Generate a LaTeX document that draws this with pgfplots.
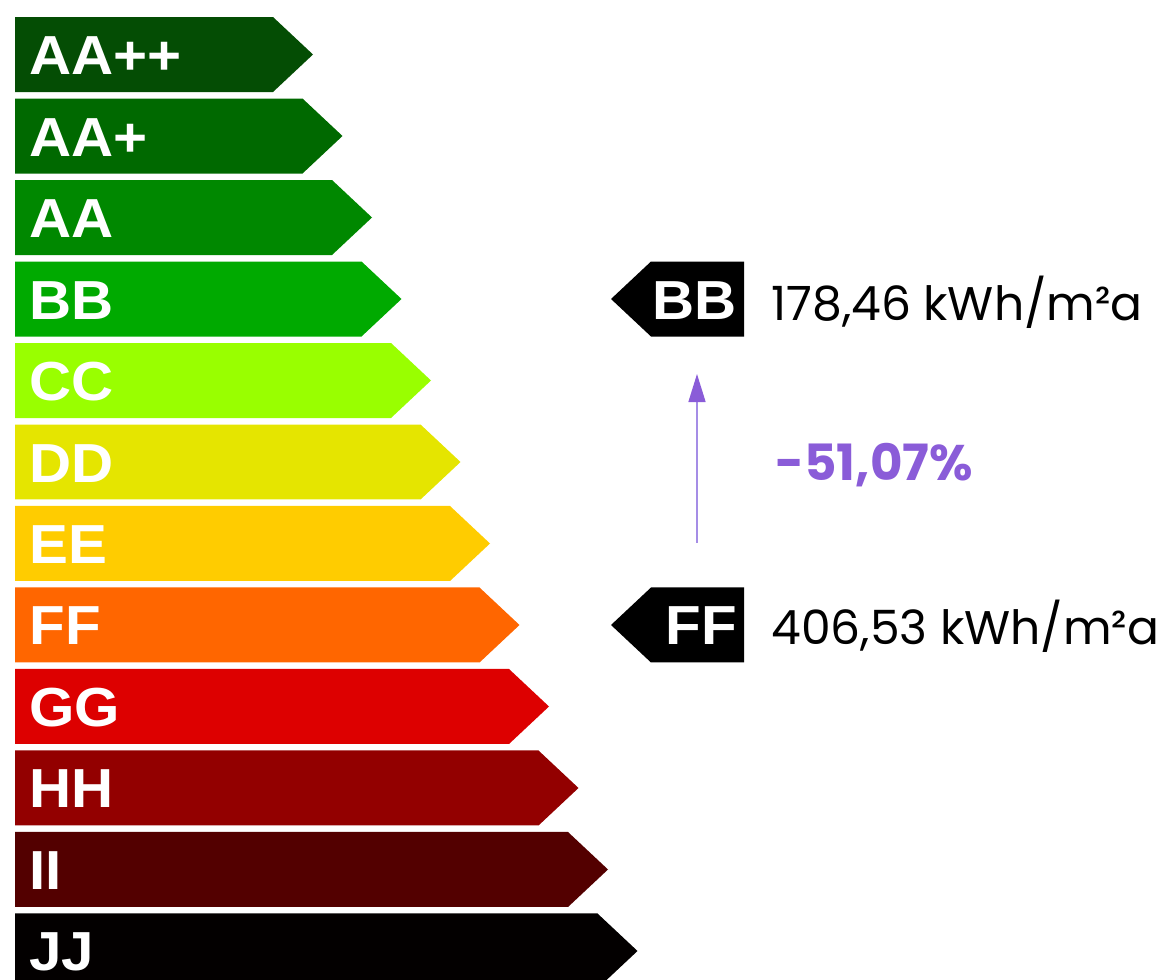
\documentclass[border=0pt]{standalone}
\usepackage{pgfplots}
\pgfplotsset{compat=1.18}
\usepackage{fontspec}
\usetikzlibrary{arrows.meta}
\newfontfamily\lbl{Liberation Sans}[FakeStretch=1.06]
\newfontfamily\pop{Poppins}

\definecolor{cAApp}{HTML}{044D04}
\definecolor{cAAp}{HTML}{006900}
\definecolor{cAA}{HTML}{008800}
\definecolor{cBB}{HTML}{00AA00}
\definecolor{cCC}{HTML}{99FF00}
\definecolor{cDD}{HTML}{E5E500}
\definecolor{cEE}{HTML}{FFCC00}
\definecolor{cFF}{HTML}{FF6600}
\definecolor{cGG}{HTML}{DD0000}
\definecolor{cHH}{HTML}{930000}
\definecolor{cII}{HTML}{530000}
\definecolor{cJJ}{HTML}{030000}
\definecolor{purp}{HTML}{8A5CD8}
\definecolor{purpline}{HTML}{A58DE6}

\begin{document}
\begin{tikzpicture}
\begin{axis}[
    width=584bp, height=490bp, scale only axis,
    xmin=0, xmax=1168, ymin=0, ymax=980,
    y dir=reverse,
    hide axis,
    clip=true,
]
% invisible corners so the picture keeps the full frame
\addplot[draw=none] coordinates {(0,0) (1168,980)};

% class bars: (0,top) (body end,top) (tip,mid) (body end,bottom) (0,bottom)
\addplot[fill=cAApp, draw=none] coordinates {(15,17) (273,17) (313,54.5) (273,92) (15,92)} -- cycle;
\addplot[fill=cAAp, draw=none] coordinates {(15,98.5) (302.5,98.5) (342.5,136) (302.5,173.5) (15,173.5)} -- cycle;
\addplot[fill=cAA, draw=none] coordinates {(15,180) (332,180) (372,217.5) (332,255) (15,255)} -- cycle;
\addplot[fill=cBB, draw=none] coordinates {(15,261.5) (361.5,261.5) (401.5,299) (361.5,336.5) (15,336.5)} -- cycle;
\addplot[fill=cCC, draw=none] coordinates {(15,343) (391,343) (431,380.5) (391,418) (15,418)} -- cycle;
\addplot[fill=cDD, draw=none] coordinates {(15,424.5) (420.5,424.5) (460.5,462) (420.5,499.5) (15,499.5)} -- cycle;
\addplot[fill=cEE, draw=none] coordinates {(15,506) (450,506) (490,543.5) (450,581) (15,581)} -- cycle;
\addplot[fill=cFF, draw=none] coordinates {(15,587.5) (479.5,587.5) (519.5,625) (479.5,662.5) (15,662.5)} -- cycle;
\addplot[fill=cGG, draw=none] coordinates {(15,669) (509,669) (549,706.5) (509,744) (15,744)} -- cycle;
\addplot[fill=cHH, draw=none] coordinates {(15,750.5) (538.5,750.5) (578.5,788) (538.5,825.5) (15,825.5)} -- cycle;
\addplot[fill=cII, draw=none] coordinates {(15,832) (568,832) (608,869.5) (568,907) (15,907)} -- cycle;
\addplot[fill=cJJ, draw=none] coordinates {(15,913.5) (597.5,913.5) (637.5,951) (597.5,988.5) (15,988.5)} -- cycle;

% current and previous rating markers
\addplot[fill=black, draw=none] coordinates {(744,261.5) (651,261.5) (611,299) (651,336.5) (744,336.5)} -- cycle;
\addplot[fill=black, draw=none] coordinates {(744,587.5) (651,587.5) (611,625) (651,662.5) (744,662.5)} -- cycle;

% improvement arrow
\addplot[purpline, line width=0.75bp, -{Triangle[length=14bp,width=8.5bp,color=purp]}] coordinates {(697,543) (697,374)};

\begin{scope}[every node/.style={inner sep=0pt, text=white, anchor=base west,
    font=\lbl\bfseries\fontsize{27.5bp}{30bp}\selectfont}]
\node at (axis cs:29,74.5) {AA++};
\node at (axis cs:29,156) {AA+};
\node at (axis cs:29,237.5) {AA};
\node at (axis cs:29,319) {BB};
\node at (axis cs:29,400.5) {CC};
\node at (axis cs:29,482) {DD};
\node at (axis cs:29,563.5) {EE};
\node at (axis cs:29,645) {FF};
\node at (axis cs:29,726.5) {GG};
\node at (axis cs:29,808) {HH};
\node at (axis cs:29,889.5) {II};
\node at (axis cs:29,971) {JJ};
\node[anchor=base east] at (axis cs:737,319) {BB};
\node[anchor=base east] at (axis cs:737,645) {FF};
\end{scope}

\node[inner sep=0pt, anchor=base west, font=\pop\fontsize{23.6bp}{28bp}\selectfont]
  at (axis cs:771,320) {178,46 kWh/m²a};
\node[inner sep=0pt, anchor=base west, font=\pop\fontsize{23.6bp}{28bp}\selectfont]
  at (axis cs:771,645) {406,53 kWh/m²a};
\node[inner sep=0pt, anchor=base west, text=purp, font=\pop\bfseries\fontsize{25bp}{28bp}\selectfont]
  at (axis cs:775,480) {-51,07\%};
\end{axis}
\end{tikzpicture}
\end{document}
